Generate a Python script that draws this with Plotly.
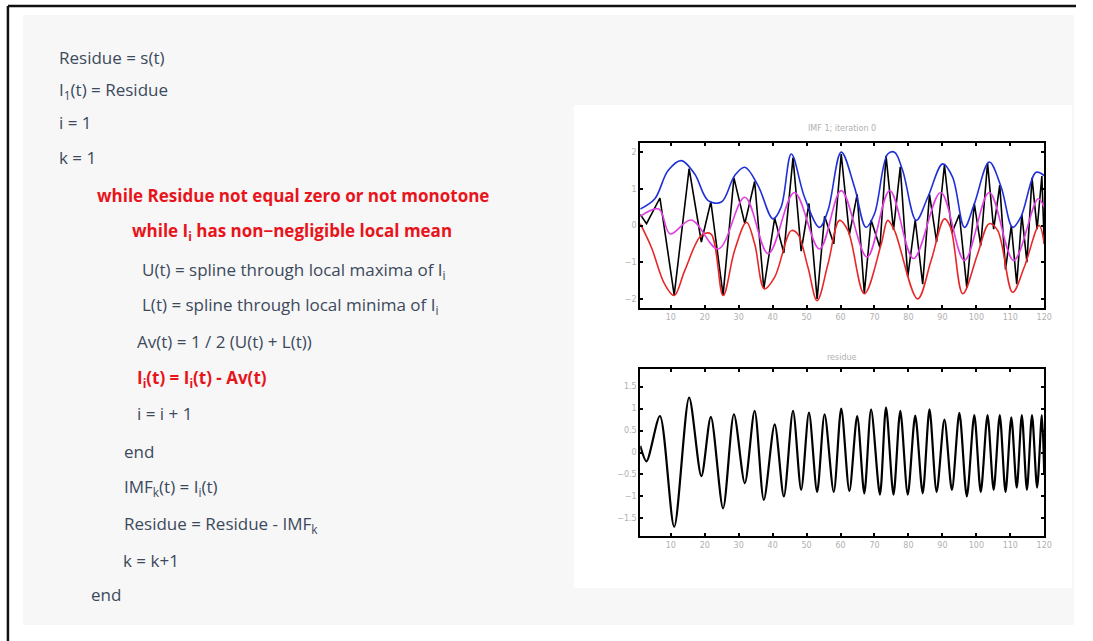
import plotly.graph_objects as go

W, H = 1084, 641

# ---------------- data ----------------
code_lines = [
    "Residue = s(t)",
    "I<sub>1</sub>(t) = Residue",
    "i = 1",
    "k = 1",
    "while Residue not equal zero or not monotone",
    "while I<sub>i</sub> has non−negligible local mean",
    "U(t) = spline through local maxima of I<sub>i</sub>",
    "L(t) = spline through local minima of I<sub>i</sub>",
    "Av(t) = 1 / 2 (U(t) + L(t))",
    "I<sub>i</sub>(t) = I<sub>i</sub>(t) - Av(t)",
    "i = i + 1",
    "end",
    "IMF<sub>k</sub>(t) = I<sub>i</sub>(t)",
    "Residue = Residue - IMF<sub>k</sub>",
    "k = k+1",
    "end",
]
code_red = [False, False, False, False, True, True, False, False,
            False, True, False, False, False, False, False, False]

# Top panel: signal (black) extrema
sig_t = [1, 2.85, 6.8, 11, 15.4, 19, 21.8, 25.4, 28.6, 31.8, 34.7, 37.4, 40.6,
         43.3, 46, 48.4, 50.7, 53.1, 55.3, 58, 60.2, 62.6, 64.9, 67, 69, 71.6,
         73.4, 75.6, 77.6, 79.8, 82, 84.2, 86.2, 88.3, 90.6, 92.8, 95.0, 97.2,
         99.4, 101.3, 103.3, 105.1, 106.9, 108.6, 110.3, 111.9, 113.4, 114.9,
         116.4, 117.9, 119.3, 120]
sig_v = [0.3, 0.05, 0.75, -1.9, 1.55, -0.45, 0.65, -1.9, 1.3, 0.05, 1.2, -1.72,
         0.2, -0.75, 1.85, -0.7, 0.6, -2.0, 0.25, -0.5, 1.95, -0.25, 0.85, -1.85,
         0.15, -0.6, 1.9, -0.12, 1.6, -1.4, 0.15, -1.6, 0.85, -0.45, 1.65, -0.2,
         0.3, -1.7, 0.6, -0.55, 1.7, -0.1, 1.1, -1.2, 0.0, -1.6, 0.3, -1.0, 1.3,
         -0.1, 1.35, -0.5]

# Upper envelope (blue)
up_t = [1, 5.3, 9.2, 13.1, 17, 21, 24.9, 28.8, 31.8, 35.7, 40.1, 42.5, 45.5,
        49.4, 53.8, 56.3, 60.2, 64.1, 67.5, 70, 73.9, 75.9, 78.3, 82.3, 85.7,
        90.1, 93, 96.5, 99.4, 103.8, 107.3, 110.7, 113.1, 117.6, 120]
up_v = [0.45, 0.73, 1.5, 1.77, 1.41, 0.68, 0.64, 1.36, 1.59, 1.09, 0.18, 0.5,
        1.95, 0.77, -0.05, 0.41, 2.0, 1.05, -0.05, 0.32, 1.95, 2.0, 1.5, 0.14,
        0.77, 1.68, 1.32, -0.05, 0.59, 1.73, 1.05, -0.05, 0.23, 1.45, 1.36]

# Lower envelope (red)
lo_t = [1, 4.3, 8.2, 11, 14.1, 19, 21.8, 25.4, 28.8, 32.3, 34.7, 37.6, 40.6,
        45.5, 47.4, 50.4, 53.1, 56.3, 59.7, 62.2, 67, 72, 73.9, 75.9, 82.7,
        86.7, 90.6, 92.4, 96, 100.4, 103.8, 106.3, 110.7, 114.1, 118.5, 120]
lo_v = [0.05, -0.6, -1.6, -1.91, -1.23, -0.27, -0.23, -1.91, -0.68, 0.09, -0.5,
        -1.73, -1.41, -0.14, -0.23, -1.14, -2.05, -1.05, 0.14, -0.14, -1.86,
        -0.5, 0.14, -0.14, -2.0, -0.95, 0.18, -0.05, -1.86, -0.77, 0.05, -0.14,
        -1.82, -1.14, 0.0, -0.5]

# Local mean (magenta)
mean_t = [1, 6.5, 9.8, 16, 24, 31.8, 38.7, 46.4, 53.8, 60.2, 67.8, 74.5, 81.5,
          89.5, 96.5, 103.8, 111, 118.2, 120]
mean_v = [0.25, 0.45, -0.23, 0.15, -0.64, 0.77, -0.77, 0.9, -0.64, 0.95, -0.86,
          0.95, -0.9, 0.9, -0.95, 0.9, -0.95, 0.73, 0.5]

# Bottom panel: residue extrema
res_t = [1, 2.85, 6.8, 11, 15.4, 19, 21.8, 25.4, 28.6, 31.8, 34.7, 37.4, 40.6,
         43.3, 46, 48.4, 50.7, 53.1, 55.3, 58, 60.2, 62.6, 64.9, 67, 69, 71.6,
         73.4, 75.6, 77.6, 79.8, 82, 84.2, 86.2, 88.3, 90.6, 92.8, 95.0, 97.2,
         99.4, 101.3, 103.3, 105.1, 106.9, 108.6, 110.3, 111.9, 113.4, 114.9,
         116.4, 117.9, 119.3, 120]
res_v = [0.15, -0.2, 0.83, -1.69, 1.25, -0.54, 0.81, -1.27, 0.87, -0.7, 0.95,
         -1.08, 0.64, -1.0, 0.95, -0.85, 0.91, -0.9, 0.87, -0.9, 1.0, -0.88,
         0.83, -0.93, 0.98, -0.96, 1.03, -0.96, 0.95, -0.96, 0.84, -0.93, 0.98,
         -0.9, 0.75, -0.85, 0.9, -1.0, 0.85, -0.9, 0.85, -0.85, 0.85, -0.9, 0.8,
         -0.8, 0.85, -0.85, 0.85, -0.8, 0.85, -0.5]

x_ticks = [10, 20, 30, 40, 50, 60, 70, 80, 90, 100, 110, 120]
top_yticks = [-2, -1, 0, 1, 2]
bot_yticks = [-1.5, -1, -0.5, 0, 0.5, 1, 1.5]
top_title = "IMF 1; iteration 0"
bot_title = "residue"

# ---------------- figure ----------------
def px(x):
    return min(x, W) / W

def py(y):
    return 1 - y / H

fig = go.Figure()

lw = 1.6
fig.add_trace(go.Scatter(x=sig_t, y=sig_v, mode="lines", line=dict(color="black", width=lw),
                         xaxis="x", yaxis="y", showlegend=False))
fig.add_trace(go.Scatter(x=up_t, y=up_v, mode="lines", line=dict(color="#2030d8", width=lw, shape="spline"),
                         xaxis="x", yaxis="y", showlegend=False))
fig.add_trace(go.Scatter(x=lo_t, y=lo_v, mode="lines", line=dict(color="#e82828", width=lw, shape="spline"),
                         xaxis="x", yaxis="y", showlegend=False))
fig.add_trace(go.Scatter(x=mean_t, y=mean_v, mode="lines", line=dict(color="#e040e0", width=lw, shape="spline"),
                         xaxis="x", yaxis="y", showlegend=False))
fig.add_trace(go.Scatter(x=res_t, y=res_v, mode="lines", line=dict(color="black", width=2.2, shape="spline", smoothing=0.8),
                         xaxis="x2", yaxis="y2", showlegend=False))

axis_common = dict(showgrid=False, zeroline=False, showline=True, linecolor="black", linewidth=2,
                   mirror="ticks", ticks="inside", ticklen=3, tickcolor="black", tickwidth=1.5,
                   tickfont=dict(size=8, color="#b0b0b0", family="DejaVu Sans"))

dom_x = [px(645), px(1052)]
fig.update_layout(
    width=W, height=H, margin=dict(l=0, r=0, t=0, b=0),
    paper_bgcolor="white", plot_bgcolor="white",
    xaxis=dict(domain=dom_x, range=[1, 120], tickvals=x_ticks, anchor="y", **axis_common),
    yaxis=dict(domain=[py(308), py(143)], range=[-2.25, 2.25], tickvals=top_yticks, anchor="x", **axis_common),
    xaxis2=dict(domain=dom_x, range=[1, 120], tickvals=x_ticks, anchor="y2", **axis_common),
    yaxis2=dict(domain=[py(536), py(369)], range=[-1.9, 1.9], tickvals=bot_yticks, anchor="x2", **axis_common),
)

shapes = [
    dict(type="rect", xref="paper", yref="paper", x0=px(23), x1=px(1082), y0=py(625), y1=py(15),
         fillcolor="#f7f7f7", line=dict(width=0), layer="below"),
    dict(type="rect", xref="paper", yref="paper", x0=px(578), x1=px(1080), y0=py(588), y1=py(105),
         fillcolor="white", line=dict(width=0), layer="below"),
    dict(type="line", xref="paper", yref="paper", x0=px(8), x1=px(1084), y0=py(6), y1=py(6),
         line=dict(color="#111111", width=2.5)),
    dict(type="line", xref="paper", yref="paper", x0=px(8), x1=px(8), y0=py(6), y1=py(641),
         line=dict(color="#111111", width=2.5)),
]
fig.update_layout(shapes=shapes)

line_y = [58, 90, 123, 158, 195, 232, 271, 305, 341, 378, 413, 451, 487, 524, 560, 594]
line_x = [57, 57, 57, 57, 96, 131, 141, 141, 136, 136, 136, 123, 123, 123, 122, 90]

annotations = []
for txt, red, x, y in zip(code_lines, code_red, line_x, line_y):
    annotations.append(dict(
        text=("<b>%s</b>" % txt) if red else txt,
        x=px(x), y=py(y), xref="paper", yref="paper", xanchor="left", yanchor="middle",
        showarrow=False,
        font=dict(family="Open Sans", size=17,
                  color="#e8141c" if red else "#3c4a5c"),
    ))
annotations.append(dict(text=top_title, x=px(848), y=py(128), xref="paper", yref="paper",
                        xanchor="center", yanchor="middle", showarrow=False,
                        font=dict(size=8, color="#b0b0b0", family="DejaVu Sans")))
annotations.append(dict(text=bot_title, x=px(848), y=py(357), xref="paper", yref="paper",
                        xanchor="center", yanchor="middle", showarrow=False,
                        font=dict(size=8, color="#b0b0b0", family="DejaVu Sans")))
fig.update_layout(annotations=annotations)

post = (
    "document.documentElement.style.overflow='hidden';"
    "document.documentElement.style.margin='0';"
    "document.body.style.margin='0';"
    "document.body.style.padding='0';"
    "document.body.style.overflow='hidden';"
    "document.body.style.lineHeight='0';"
)
fig.write_html("out.html",
               config={"displayModeBar": False, "responsive": False},
               post_script=post)
